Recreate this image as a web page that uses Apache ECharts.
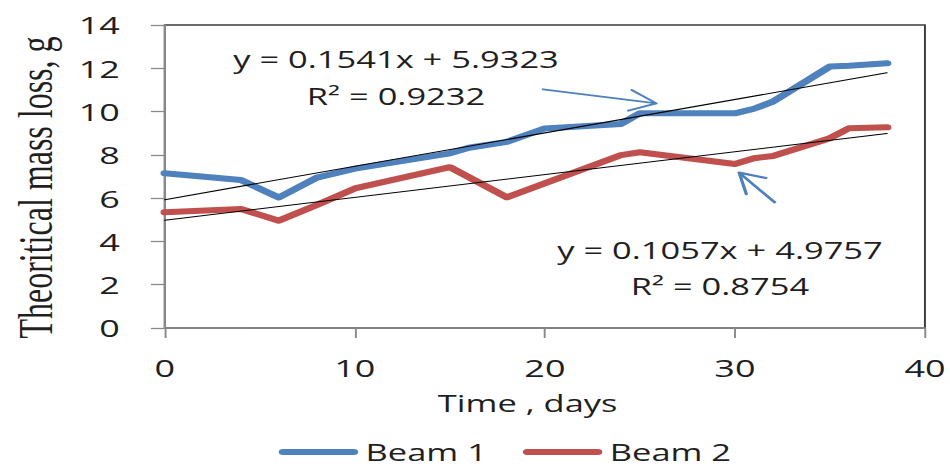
<!DOCTYPE html>
<html><head><meta charset="utf-8">
<script src="https://cdn.jsdelivr.net/npm/echarts@6/dist/echarts.min.js"></script>
<style>
html,body{margin:0;padding:0;background:#fff;overflow:hidden;}
#wrap{width:950px;height:468px;overflow:hidden;}
#chart{width:634px;height:468px;transform:scaleX(1.49842);transform-origin:0 0;}
</style></head><body>
<div id="wrap"><div id="chart"></div></div>
<script>
// Data
const beam1Days = [0, 4, 6, 8, 10, 15, 16, 18, 20, 24, 25, 30, 31, 32, 35, 36, 38];
const beam1Loss = [7.15, 6.84, 6.03, 6.95, 7.36, 8.07, 8.33, 8.6, 9.22, 9.43, 9.92, 9.92, 10.13, 10.46, 12.08, 12.12, 12.23];
const beam2Days = [0, 4, 6, 8, 10, 15, 18, 24, 25, 30, 31, 32, 35, 36, 38];
const beam2Loss = [5.35, 5.5, 4.96, 5.68, 6.45, 7.43, 6.04, 7.99, 8.12, 7.58, 7.84, 7.95, 8.77, 9.23, 9.27];
// Linear trendlines (end points as drawn)
const trendDays = [0, 38];
const trend1Loss = [5.93, 11.79];
const trend2Loss = [4.98, 8.99];
const trend1Label = ['y = 0.1541x + 5.9323', 'R² = 0.9232'];
const trend2Label = ['y = 0.1057x + 4.9757', 'R² = 0.8754'];
// Annotation arrows (tail, tip, arm, tip, arm) in data units
const arrow1 = [[19.9, 11.03], [25.87, 10.38], [24.57, 11.0], [25.87, 10.38], [24.39, 10.04]];
const arrow2 = [[32.09, 5.81], [30.22, 7.18], [31.63, 6.93], [30.22, 7.18], [30.6, 6.19]];
const xTicks = {min: 0, max: 40, interval: 10};
const yTicks = {min: 0, max: 14, interval: 2};

const zip = (xs, ys) => xs.map((x, i) => [x, ys[i]]);
const BLUE = '#4F81BD', RED = '#C0504D', TXT = '#1f1f1f', AX = '#8a8a8a';
const SANS = 'Open Sans';

const chart = echarts.init(document.getElementById('chart'), null, {renderer: 'svg'});
const lineSeries = (name, data, color, width) => ({
  name, type: 'line', data, showSymbol: false, symbol: 'none', silent: true,
  itemStyle: {color}, lineStyle: {color, width, cap: 'round', join: 'round'},
  animation: false
});
chart.setOption({
  animation: false,
  grid: {left: 105.4, right: 14, top: 25, bottom: 140, show: true,
         borderColor: '#3c3c3c', borderWidth: 1.3, backgroundColor: 'transparent'},
  xAxis: {
    type: 'value', min: xTicks.min, max: xTicks.max, interval: xTicks.interval,
    name: 'Time , days', nameLocation: 'middle', nameGap: 64,
    nameTextStyle: {fontSize: 23, fontFamily: SANS, color: TXT, padding: [0, 23, 0, 0]},
    axisLine: {show: true, lineStyle: {color: AX, width: 1.5}},
    axisTick: {show: true, length: 10, lineStyle: {color: AX, width: 1.3}},
    axisLabel: {margin: 28, fontSize: 24, fontFamily: SANS, color: TXT},
    splitLine: {show: false}
  },
  yAxis: {
    type: 'value', min: yTicks.min, max: yTicks.max, interval: yTicks.interval,
    name: 'Theoritical mass loss, g', nameLocation: 'middle', nameGap: 70,
    nameTextStyle: {fontSize: 32, fontFamily: 'Liberation Serif', color: TXT, padding: [0, 22, 0, 0]},
    axisLine: {show: true, lineStyle: {color: AX, width: 1.5}},
    axisTick: {show: true, length: 9.3, lineStyle: {color: AX, width: 1.3}},
    axisLabel: {margin: 30, fontSize: 24, fontFamily: SANS, color: TXT},
    splitLine: {show: false}
  },
  legend: {
    data: ['Beam 1', 'Beam 2'], left: 186, top: 439, padding: 0,
    itemWidth: 53, itemHeight: 6, itemGap: 24,
    icon: 'path://M3,0 H50 A3,3 0 0 1 50,6 H3 A3,3 0 0 1 3,0 Z',
    textStyle: {fontSize: 23, fontFamily: SANS, color: TXT, lineHeight: 26}, selectedMode: false
  },
  series: [
    lineSeries('Beam 1', zip(beam1Days, beam1Loss), BLUE, 6),
    lineSeries('Beam 2', zip(beam2Days, beam2Loss), RED, 6),
    lineSeries('trend1', zip(trendDays, trend1Loss), '#000', 1.1),
    lineSeries('trend2', zip(trendDays, trend2Loss), '#000', 1.1),
    lineSeries('arrow1', arrow1, BLUE, 1.8),
    lineSeries('arrow2', arrow2, BLUE, 2.2)
  ],
  graphic: [
    {type: 'text', silent: true, style: {text: trend1Label[0], x: 264.3, y: 59, align: 'center', verticalAlign: 'middle', fontSize: 23, fontFamily: SANS, fill: TXT}},
    {type: 'text', silent: true, style: {text: trend1Label[1], x: 264.3, y: 96, align: 'center', verticalAlign: 'middle', fontSize: 23, fontFamily: SANS, fill: TXT}},
    {type: 'text', silent: true, style: {text: trend2Label[0], x: 480.5, y: 250, align: 'center', verticalAlign: 'middle', fontSize: 23, fontFamily: SANS, fill: TXT}},
    {type: 'text', silent: true, style: {text: trend2Label[1], x: 480.5, y: 286, align: 'center', verticalAlign: 'middle', fontSize: 23, fontFamily: SANS, fill: TXT}}
  ]
});
</script>
</body></html>
